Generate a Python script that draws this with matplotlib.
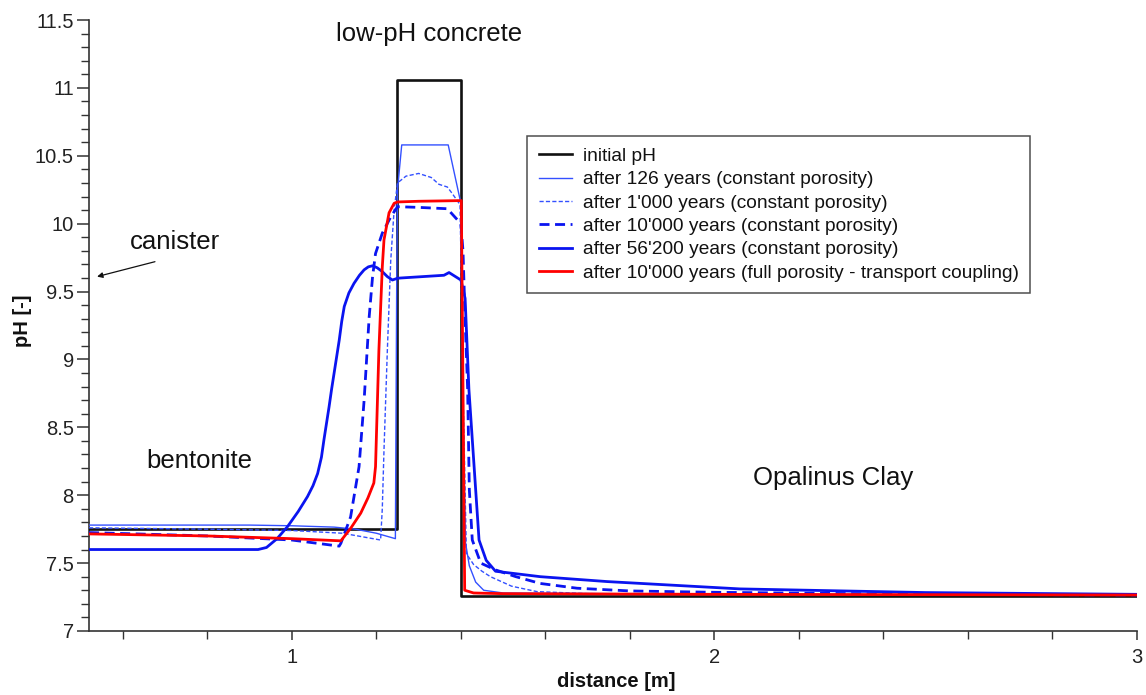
import matplotlib
matplotlib.use("Agg")
import matplotlib.pyplot as plt
from matplotlib.ticker import MultipleLocator, FuncFormatter

plt.rcParams['font.family'] = ['Liberation Sans', 'DejaVu Sans']

# ---------------- data ----------------
init_x = [0.52, 1.25, 1.25, 1.40, 1.40, 3.0]
init_y = [7.75, 7.75, 11.06, 11.06, 7.26, 7.26]

y126_x = [0.52, 0.9, 1.0, 1.1, 1.15, 1.2, 1.245, 1.248, 1.25, 1.26, 1.37, 1.40,
          1.405, 1.411, 1.42, 1.435, 1.454, 1.5, 2.0, 3.0]
y126_y = [7.78, 7.78, 7.775, 7.765, 7.75, 7.72, 7.68, 9.5, 10.25, 10.58, 10.58, 10.15,
          8.6, 7.65, 7.48, 7.36, 7.30, 7.28, 7.27, 7.265]

y1000_x = [0.52, 0.8, 1.0, 1.12, 1.21, 1.214, 1.218, 1.226, 1.234, 1.242, 1.25, 1.27,
           1.30, 1.33, 1.348, 1.368, 1.38, 1.398, 1.405, 1.413, 1.43, 1.45, 1.47, 1.52,
           1.58, 1.7, 2.0, 3.0]
y1000_y = [7.76, 7.75, 7.74, 7.72, 7.67, 7.9, 8.33, 9.07, 9.73, 10.1, 10.30, 10.35,
           10.37, 10.34, 10.29, 10.27, 10.22, 10.14, 8.8, 7.57, 7.49, 7.44, 7.40, 7.33,
           7.29, 7.275, 7.27, 7.265]

y10k_x = [0.52, 0.8, 1.0, 1.112, 1.116, 1.139, 1.159, 1.171, 1.183, 1.191, 1.198, 1.214,
          1.234, 1.25, 1.30, 1.368, 1.40, 1.405, 1.41, 1.416, 1.42, 1.427, 1.447, 1.482,
          1.53, 1.588, 1.675, 1.8, 2.0, 2.5, 3.0]
y10k_y = [7.725, 7.70, 7.67, 7.625, 7.646, 7.84, 8.21, 8.70, 9.315, 9.61, 9.78, 9.93,
          10.05, 10.125, 10.12, 10.11, 10.0, 9.8, 9.3, 8.78, 8.04, 7.67, 7.50, 7.45,
          7.40, 7.35, 7.315, 7.295, 7.285, 7.27, 7.265]

y56k_x = [0.52, 0.92, 0.94, 0.965, 0.99, 1.015, 1.037, 1.05, 1.061, 1.07, 1.076, 1.082,
          1.088, 1.094, 1.100, 1.106, 1.112, 1.118, 1.124, 1.135, 1.147, 1.16, 1.171,
          1.181, 1.191, 1.202, 1.214, 1.226, 1.238, 1.25, 1.258, 1.36, 1.372, 1.40,
          1.41, 1.419, 1.435, 1.443, 1.46, 1.482, 1.588, 1.746, 2.06, 2.5, 3.0]
y56k_y = [7.60, 7.60, 7.615, 7.68, 7.77, 7.88, 7.99, 8.07, 8.16, 8.28, 8.41, 8.53,
          8.65, 8.78, 8.90, 9.02, 9.14, 9.28, 9.39, 9.49, 9.56, 9.62, 9.66,
          9.682, 9.69, 9.675, 9.647, 9.61, 9.585, 9.598, 9.60, 9.62, 9.64, 9.585,
          9.45, 8.78, 8.04, 7.67, 7.52, 7.44, 7.40, 7.364, 7.31, 7.283, 7.27]

red_x = [0.52, 0.8, 1.0, 1.116, 1.14, 1.163, 1.18, 1.194, 1.198, 1.206, 1.214, 1.218,
         1.23, 1.242, 1.25, 1.30, 1.401, 1.405, 1.409, 1.43, 1.454, 1.5, 2.0, 3.0]
red_y = [7.715, 7.70, 7.68, 7.664, 7.76, 7.868, 7.98, 8.09, 8.21, 9.07, 9.68, 9.88,
         10.08, 10.15, 10.16, 10.165, 10.17, 8.8, 7.30, 7.28, 7.278, 7.275, 7.27, 7.265]

labels = ["initial pH",
          "after 126 years (constant porosity)",
          "after 1'000 years (constant porosity)",
          "after 10'000 years (constant porosity)",
          "after 56'200 years (constant porosity)",
          "after 10'000 years (full porosity - transport coupling)"]

y_ticks = [7, 7.5, 8, 8.5, 9, 9.5, 10, 10.5, 11, 11.5]
x_ticks = [1, 2, 3]

# ---------------- figure ----------------
fig = plt.figure(figsize=(11.46, 6.95), dpi=100)
ax = fig.add_axes([0.0777, 0.0921, 0.9144, 0.8791])

ax.plot(init_x, init_y, color='#111111', lw=1.9, label=labels[0], zorder=3)
ax.plot(y126_x, y126_y, color='#3350ff', lw=1.0, label=labels[1], zorder=4)
ax.plot(y1000_x, y1000_y, color='#3350ff', lw=1.0, dashes=(3, 1.6), label=labels[2], zorder=4)
ax.plot(y10k_x, y10k_y, color='#0a14f0', lw=2.0, dashes=(3.6, 2.0), label=labels[3], zorder=5)
ax.plot(y56k_x, y56k_y, color='#0a14f0', lw=2.0, label=labels[4], zorder=5)
ax.plot(red_x, red_y, color='#ff0000', lw=2.0, label=labels[5], zorder=6)

ax.set_xlim(0.52, 3.0)
ax.set_ylim(7, 11.5)
ax.set_xticks(x_ticks)
ax.set_yticks(y_ticks)
ax.xaxis.set_minor_locator(MultipleLocator(0.2))
ax.yaxis.set_minor_locator(MultipleLocator(0.1))
ax.yaxis.set_major_formatter(FuncFormatter(lambda v, p: f"{v:g}"))
ax.xaxis.set_major_formatter(FuncFormatter(lambda v, p: f"{v:g}"))

for s in ['top', 'right']:
    ax.spines[s].set_visible(False)
for s in ['left', 'bottom']:
    ax.spines[s].set_color('#333333')
    ax.spines[s].set_linewidth(1.2)

ax.tick_params(axis='both', which='both', direction='out', color='#333333',
               labelcolor='#222222', labelsize=14.5)
ax.tick_params(axis='x', which='major', length=6.5, width=1.1, pad=6)
ax.tick_params(axis='x', which='minor', length=5.5, width=1.0)
ax.tick_params(axis='y', which='major', length=9, width=1.1, pad=2)
ax.tick_params(axis='y', which='minor', length=5.5, width=1.0)

leg = ax.legend(loc='upper left', bbox_to_anchor=(0.418, 0.810), borderaxespad=0,
                fontsize=13.8, frameon=True, fancybox=False, handlelength=1.75,
                handletextpad=0.55, labelspacing=0.31, borderpad=0.6)
leg.get_frame().set_edgecolor('#222222')
leg.get_frame().set_linewidth(1.1)
for t in leg.get_texts():
    t.set_color('#111111')

ax.text(1.324, 11.40, "low-pH concrete", fontsize=18.5, ha='center', va='center',
        color='#111111', clip_on=False)
ax.text(0.617, 9.865, "canister", fontsize=18.5, ha='left', va='center', color='#111111')
ax.text(0.655, 8.255, "bentonite", fontsize=18.5, ha='left', va='center', color='#111111')
ax.text(2.091, 8.128, "Opalinus Clay", fontsize=18.5, ha='left', va='center', color='#111111')

ax.annotate("", xy=(0.539, 9.61), xytext=(0.676, 9.72),
            arrowprops=dict(arrowstyle='-|>', lw=0.9, color='#111111',
                            mutation_scale=8, shrinkA=0, shrinkB=0))

fig.text(616 / 1146, 1 - 681.7 / 695, "distance [m]", fontsize=14.5, fontweight='bold',
         ha='center', va='center', color='#111111')
fig.text(22.7 / 1146, 1 - 321 / 695, "pH [-]", fontsize=14.5, fontweight='bold',
         ha='center', va='center', rotation=90, color='#111111')

fig.savefig("out.png", dpi=100)
